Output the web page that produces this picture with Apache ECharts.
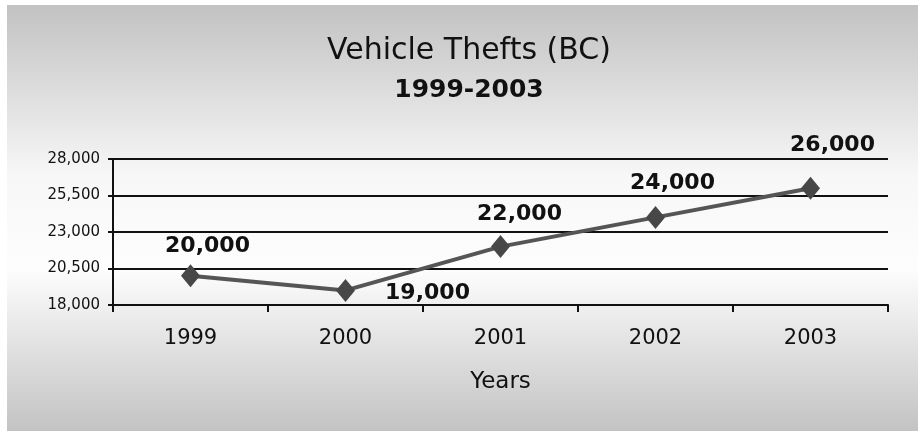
<!DOCTYPE html>
<html>
<head>
<meta charset="utf-8">
<script src="https://cdn.jsdelivr.net/npm/echarts@6/dist/echarts.min.js"></script>
<style>
html,body{margin:0;padding:0;background:#fff;}
#chart{width:918px;height:431px;}
</style>
</head>
<body>
<div id="chart"></div>
<script>
const categories = ['1999', '2000', '2001', '2002', '2003'];
const thefts = [20000, 19000, 22000, 24000, 26000];
const yTicks = [18000, 20500, 23000, 25500, 28000];
const titleText = 'Vehicle Thefts (BC)';
const subtitleText = '1999-2003';
const xAxisName = 'Years';

const labelOffsets = [[17, -30], [82, 3], [19, -32], [17, -34], [22, -43]];

const chart = echarts.init(document.getElementById('chart'), null, {renderer: 'canvas'});
const fmt = v => v.toLocaleString('en-US');

chart.setOption({
  animation: false,
  backgroundColor: '#ffffff',
  graphic: [{
    type: 'rect', z: -10, silent: true,
    shape: {x: 7, y: 5, width: 911, height: 426},
    style: {
      fill: new echarts.graphic.LinearGradient(0, 0, 0, 1, [
        {offset: 0, color: '#c2c2c2'},
        {offset: 0.4, color: '#f7f7f7'},
        {offset: 0.62, color: '#fdfdfd'},
        {offset: 1, color: '#c3c3c3'}
      ])
    }
  }],
  title: [{
    text: titleText, left: 464, top: 31, textAlign: 'center',
    textStyle: {fontFamily: 'DejaVu Sans', fontSize: 30, fontWeight: 'normal', color: '#111'}
  }, {
    text: subtitleText, left: 464, top: 73, textAlign: 'center',
    textStyle: {fontFamily: 'DejaVu Sans', fontSize: 25, fontWeight: 'bold', color: '#111'}
  }],
  grid: {left: 113, right: 30, top: 159, bottom: 126, containLabel: false},
  xAxis: {
    type: 'category', data: categories, boundaryGap: true,
    name: xAxisName, nameLocation: 'middle', nameGap: 66,
    nameTextStyle: {fontFamily: 'DejaVu Sans', fontSize: 23, color: '#111'},
    axisLine: {show: true, lineStyle: {color: '#111', width: 2}},
    axisTick: {show: true, inside: false, length: 7, alignWithLabel: false, lineStyle: {color: '#111', width: 2}},
    axisLabel: {fontFamily: 'DejaVu Sans', fontSize: 21, color: '#111', margin: 23},
    splitLine: {show: false}
  },
  yAxis: {
    type: 'value', min: 18000, max: 28000,
    axisLine: {show: true, lineStyle: {color: '#111', width: 2}},
    axisTick: {show: true, length: 5, customValues: yTicks, lineStyle: {color: '#111', width: 2}},
    axisLabel: {fontFamily: 'DejaVu Sans', fontSize: 15, color: '#111', margin: 13,
      customValues: yTicks, formatter: v => fmt(v)},
    splitLine: {show: true, lineStyle: {color: '#111', width: 2}}
  },
  series: [{
    type: 'line',
    data: thefts.map((v, i) => ({
      value: v,
      label: {offset: labelOffsets[i]}
    })),
    symbol: 'diamond',
    symbolSize: [19, 23],
    lineStyle: {color: '#555', width: 4},
    itemStyle: {color: '#474747'},
    label: {
      show: true, position: 'inside',
      fontFamily: 'DejaVu Sans', fontSize: 22, fontWeight: 'bold', color: '#111',
      formatter: p => fmt(p.value)
    }
  }]
});
</script>
</body>
</html>
